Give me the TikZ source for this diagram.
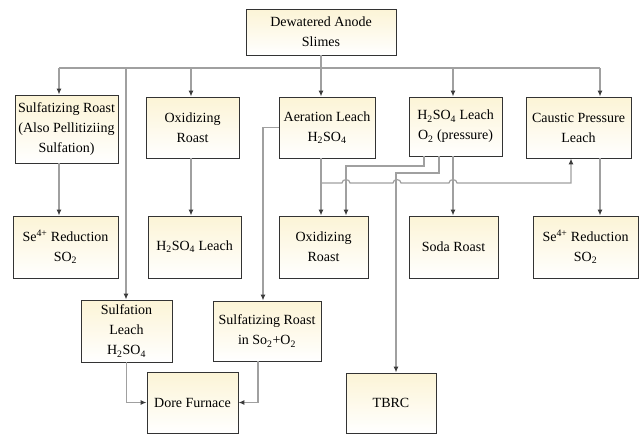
\documentclass[tikz,border=0pt]{standalone}
\usepackage{fontspec}
\setmainfont{Liberation Serif}
\usepackage{tikz}
\usetikzlibrary{arrows.meta}

\definecolor{boxtop}{RGB}{252,244,214}
\definecolor{wire}{RGB}{160,160,160}
\definecolor{tipcol}{RGB}{60,60,60}

\begin{document}
\begin{tikzpicture}[x=1pt,y=-1pt,font=\rmfamily\fontsize{14}{20}\selectfont,
  box/.style={draw=black!80,line width=0.9pt,top color=boxtop,bottom color=white,
    align=center,inner sep=1pt},
  wireline/.style={draw=wire,line width=1.2pt},
  wirearrow/.style={wireline,-{Latex[length=6pt,width=5pt,color=tipcol]}}]
\path[use as bounding box] (0,0) rectangle (639,434);

% source
\node[box,minimum width=150,minimum height=46] (dew) at (321,32) {Dewatered Anode\\Slimes};

% first row
\node[box,minimum width=103,minimum height=68] (sroast) at (66.5,129) {Sulfatizing Roast\\(Also Pellitiziing\\Sulfation)};
\node[box,minimum width=93,minimum height=61] (oroast) at (192.5,127.5) {Oxidizing\\Roast};
\node[box,minimum width=96,minimum height=61] (aer) at (327,127.5) {Aeration Leach\\H\textsubscript{2}SO\textsubscript{4}};
\node[box,minimum width=93,minimum height=59] (hleach) at (455.5,126.5) {H\textsubscript{2}SO\textsubscript{4} Leach\\O\textsubscript{2} (pressure)};
\node[box,minimum width=105,minimum height=61] (caustic) at (578.5,127.5) {Caustic Pressure\\Leach};

% second row
\node[box,minimum width=105,minimum height=62] (seA) at (65.5,247) {Se\textsuperscript{4+} Reduction\\SO\textsubscript{2}};
\node[box,minimum width=93,minimum height=62] (hltwo) at (194.5,247) {H\textsubscript{2}SO\textsubscript{4} Leach};
\node[box,minimum width=89,minimum height=62] (oxtwo) at (323.5,247) {Oxidizing\\Roast};
\node[box,minimum width=89,minimum height=62] (soda) at (453.5,247) {Soda Roast};
\node[box,minimum width=105,minimum height=62] (seB) at (585.5,247) {Se\textsuperscript{4+} Reduction\\SO\textsubscript{2}};

% third and fourth row
\node[box,minimum width=91,minimum height=62] (sleach) at (126.5,331) {Sulfation\\Leach\\H\textsubscript{2}SO\textsubscript{4}};
\node[box,minimum width=108,minimum height=60] (sroasttwo) at (267,331) {Sulfatizing Roast\\in So\textsubscript{2}+O\textsubscript{2}};
\node[box,minimum width=91,minimum height=61] (dore) at (192.5,402.5) {Dore Furnace};
\node[box,minimum width=90,minimum height=60] (tbrc) at (391,403) {TBRC};

% bus drops
\coordinate (bA) at (59,68);
\coordinate (bB) at (126,68);
\coordinate (bC) at (191,68);
\coordinate (bD) at (321,68);
\coordinate (bE) at (453,68);
\coordinate (bF) at (600,68);

\draw[wireline] (dew.south) -- (bD);
\draw[wireline] (bA) -- (bF);
\draw[wirearrow] (bA) -- (bA |- sroast.north);
\draw[wirearrow] (bB) -- (bB |- sleach.north);
\draw[wirearrow] (bC) -- (bC |- oroast.north);
\draw[wirearrow] (bD) -- (bD |- aer.north);
\draw[wirearrow] (bE) -- (bE |- hleach.north);
\draw[wirearrow] (bF) -- (bF |- caustic.north);

% first row to second row
\draw[wirearrow] (bA |- sroast.south) -- (bA |- seA.north);
\draw[wirearrow] (bC |- oroast.south) -- (bC |- hltwo.north);
\draw[wirearrow] (bD |- aer.south) -- (bD |- oxtwo.north);
\draw[wirearrow] (bE |- hleach.south) -- (bE |- soda.north);
\draw[wirearrow] (bF |- caustic.south) -- (bF |- seB.north);

% branches of the pressure leach
\coordinate (hA) at (424,166);
\coordinate (oA) at (346,166);
\coordinate (hB) at (439,173);
\coordinate (tA) at (396,173);
\draw[wirearrow] (hA |- hleach.south) -- (hA) -- (oA) -- (oA |- oxtwo.north);
\draw[wirearrow] (hB |- hleach.south) -- (hB) -- (tA) -- (tA |- tbrc.north);

% return line to caustic leach, hopping over the drops
\coordinate (jA) at (321,183);
\coordinate (cA) at (571,183);
\draw[wirearrow] (jA) -- (342,183) .. controls (342,178.5) and (350,178.5) .. (350,183)
  -- (393,183) .. controls (393,178.5) and (401,178.5) .. (401,183)
  -- (449,183) .. controls (449,178.5) and (457,178.5) .. (457,183)
  -- (cA) -- (cA |- caustic.south);

% aeration leach to sulfatizing roast
\coordinate (aA) at (263,127.5);
\draw[wirearrow] (aer.west) -- (aA) -- (aA |- sroasttwo.north);

% into the dore furnace
\coordinate (sA) at (258,402.5);
\draw[wirearrow] (sleach.south) -- (sleach.south |- dore.west) -- (dore.west);
\draw[wirearrow] (sA |- sroasttwo.south) -- (sA) -- (dore.east);
\end{tikzpicture}
\end{document}
